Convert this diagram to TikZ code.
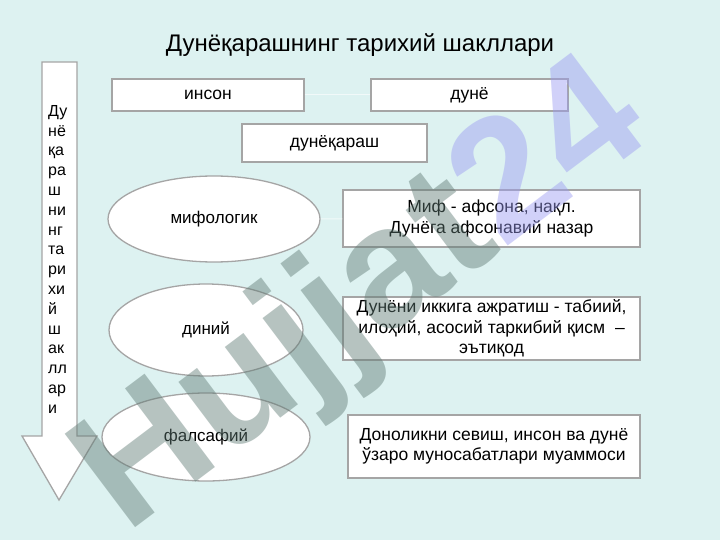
\documentclass[tikz,border=0pt]{standalone}
\usepackage{fontspec}
\setmainfont{Liberation Sans}
\usetikzlibrary{shapes.geometric}
\definecolor{bgmint}{RGB}{221,242,241}
\definecolor{edgegrey}{RGB}{165,165,165}
\definecolor{wmgrey}{RGB}{95,122,116}
\definecolor{wmlav}{RGB}{155,155,242}

\begin{document}
\begin{tikzpicture}[x=1pt, y=-1pt,
    box/.style={rectangle, draw=edgegrey, fill=white, line width=1.3pt, inner sep=2pt, align=center, font=\fontsize{17.5}{20.5}\selectfont},
    form/.style={ellipse, draw=edgegrey, fill=white, line width=1.3pt, inner sep=0pt, font=\fontsize{17}{20}\selectfont},
    link/.style={white, line width=1pt, opacity=0.6}]
    \useasboundingbox (0,0) rectangle (720,540);
    \fill[bgmint] (0,0) rectangle (720,540);

    \node[font=\fontsize{24}{28}\selectfont] (title) at (360,45) {Дунёқарашнинг тарихий шакллари};

    \draw[edgegrey, fill=white, line width=1.3pt] (42,62) -- (77,62) -- (77,436) -- (97,436) -- (59,500) -- (22,436) -- (42,436) -- cycle;
    \node[anchor=north west, align=left, inner sep=0pt, font=\fontsize{16}{19.8}\selectfont] (side) at (48,105) {Ду\\нё\\қа\\ра\\ш\\ни\\нг\\та\\ри\\хи\\й\\ш\\ак\\лл\\ар\\и};

    \node[box, minimum width=192pt, minimum height=32pt] (inson) at (208,95) {инсон};
    \node[box, minimum width=197pt, minimum height=32pt] (dunyo) at (469.5,95) {дунё};
    \node[box, minimum width=185pt, minimum height=38pt] (qarash) at (334.5,143) {дунёқараш};

    \node[form, minimum width=212pt, minimum height=86pt] (mif) at (214,219) {мифологик};
    \node[form, minimum width=194pt, minimum height=92pt] (din) at (206,330) {диний};
    \node[form, minimum width=208pt, minimum height=88pt] (falsafa) at (206,437) {фалсафий};

    \node[box, minimum width=297pt, minimum height=57pt] (mifbox) at (491.5,218.5) {Миф - афсона, нақл.\\Дунёга афсонавий назар};
    \node[box, minimum width=297pt, minimum height=63pt] (dinbox) at (491.5,328.5) {Дунёни иккига ажратиш - табиий,\\илоҳий, асосий таркибий қисм\ \ --\\эътиқод};
    \node[box, minimum width=292pt, minimum height=63pt] (falbox) at (494,446.5) {Доноликни севиш, инсон ва дунё\\ўзаро муносабатлари муаммоси};

    \draw[link] (inson) -- (dunyo);
    \draw[link] (mif) -- (mifbox);

    \node[rotate=37, text opacity=0.45, font=\fontsize{170}{170}\selectfont\bfseries] (mark) at (364,300) {\textcolor{wmgrey}{Hujjat}\textcolor{wmlav}{24}};
\end{tikzpicture}
\end{document}
